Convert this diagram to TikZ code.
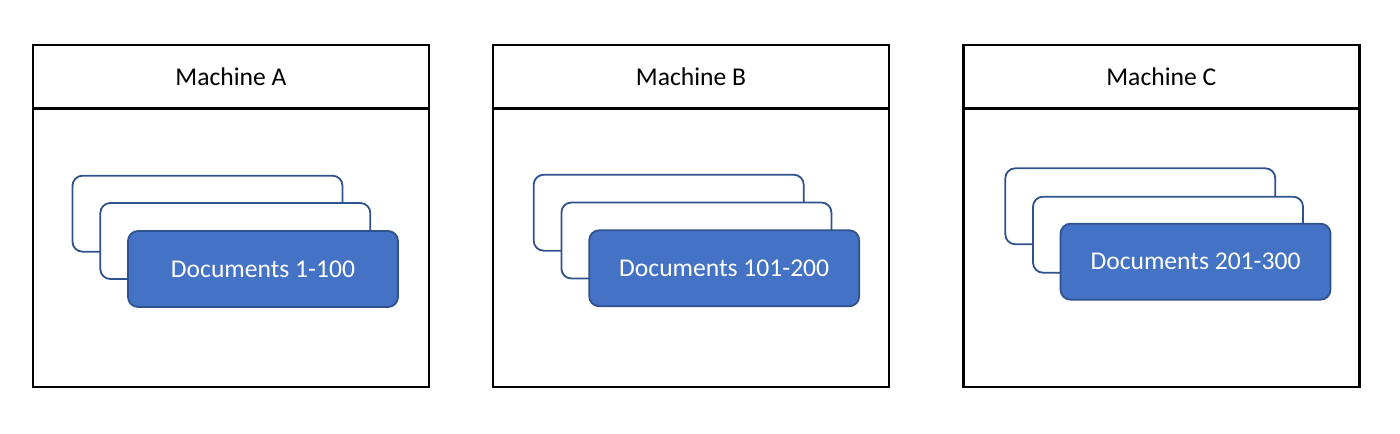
\documentclass[tikz,border=0pt]{standalone}
\usepackage{fontspec}
\setmainfont{Carlito}
\usepackage{tikz}
\definecolor{docfill}{HTML}{4472C4}
\definecolor{docline}{HTML}{2F528F}

\begin{document}
\begin{tikzpicture}
                \tikzset{x=0.5pt, y=-0.5pt}
                \tikzstyle{head}=[rectangle, draw, line width=1.3pt, minimum width=198pt, minimum height=32pt, font=\fontsize{12.8}{15}\selectfont]
                \tikzstyle{body}=[rectangle, draw, line width=1.3pt, minimum width=198pt, minimum height=139.5pt]
                \tikzstyle{card}=[rectangle, rounded corners=5pt, draw=docline, line width=0.9pt, fill=white, minimum width=135pt, minimum height=38pt]
                \tikzstyle{docs}=[card, fill=docfill, text=white, font=\fontsize{12.8}{15}\selectfont]

                \useasboundingbox (0,0) rectangle (1400,433);

                % machine boxes
                \draw (231.0, 77.0)     node[head]  (hA)    {Machine A};
                \draw (231.0, 247.5)    node[body]  (mA)    {};
                \draw (691.0, 77.0)     node[head]  (hB)    {Machine B};
                \draw (691.0, 247.5)    node[body]  (mB)    {};
                \draw (1161.3, 77.0)    node[head]  (hC)    {Machine C};
                \draw (1161.3, 247.5)   node[body]  (mC)    {};

                % document stacks
                \draw (207.5, 213.7)    node[card]  (a2)    {};
                \draw (235.3, 241.0)    node[card]  (a1)    {};
                \draw (263.0, 269.0)    node[docs]  (a0)    {Documents 1-100};

                \draw (668.7, 212.7)    node[card]  (b2)    {};
                \draw (696.4, 240.5)    node[card]  (b1)    {};
                \draw (724.2, 268.3)    node[docs]  (b0)    {Documents 101-200};

                \draw (1140.3, 206.3)   node[card]  (c2)    {};
                \draw (1168.0, 234.7)   node[card]  (c1)    {};
                \draw (1195.5, 261.7)   node[docs]  (c0)    {Documents 201-300};
            \end{tikzpicture}
\end{document}
